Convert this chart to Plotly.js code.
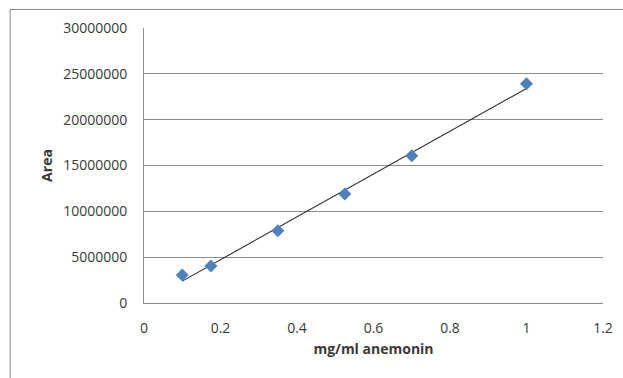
<!DOCTYPE html>
<html>
<head>
<meta charset="utf-8">
<script src="https://cdn.plot.ly/plotly-3.0.1.min.js"></script>
<style>
html, body { margin: 0; padding: 0; background: #ffffff; }
#chart { width: 623px; height: 378px; }
</style>
</head>
<body>
<div id="chart"></div>
<script>
// Data
var concentration = [0.1, 0.175, 0.35, 0.525, 0.7, 1.0];   // mg/ml anemonin
var area = [3050000, 4040000, 7890000, 11890000, 16070000, 23930000];

var xTickVals = [0, 0.2, 0.4, 0.6, 0.8, 1, 1.2];
var xTickText = ["0", "0.2", "0.4", "0.6", "0.8", "1", "1.2"];
var yTickVals = [0, 5000000, 10000000, 15000000, 20000000, 25000000, 30000000];
var yTickText = ["0", "5000000", "10000000", "15000000", "20000000", "25000000", "30000000"];

// Linear trendline (least squares) computed from the data
function linFit(xs, ys) {
  var n = xs.length, mx = 0, my = 0;
  for (var i = 0; i < n; i++) { mx += xs[i]; my += ys[i]; }
  mx /= n; my /= n;
  var sxx = 0, sxy = 0;
  for (var j = 0; j < n; j++) { sxx += (xs[j] - mx) * (xs[j] - mx); sxy += (xs[j] - mx) * (ys[j] - my); }
  var slope = sxy / sxx;
  return { slope: slope, intercept: my - slope * mx };
}
var fit = linFit(concentration, area);
var xMin = Math.min.apply(null, concentration), xMax = Math.max.apply(null, concentration);
var trendX = [xMin, xMax];
var trendY = trendX.map(function (v) { return fit.slope * v + fit.intercept; });

var font = "'Open Sans', Lato, Arial, sans-serif";

var traces = [
  {
    x: trendX, y: trendY, type: "scatter", mode: "lines",
    line: { color: "#303030", width: 1.1 },
    hoverinfo: "skip", showlegend: false
  },
  {
    x: concentration, y: area, type: "scatter", mode: "markers",
    marker: { symbol: "diamond", size: 10, color: "#4F81BD", line: { width: 0 } },
    showlegend: false
  }
];

var layout = {
  width: 623, height: 378,
  margin: { l: 144, r: 20, t: 28, b: 75 },
  paper_bgcolor: "#ffffff", plot_bgcolor: "#ffffff",
  font: { family: font, size: 14, color: "#3a3a3a" },
  showlegend: false,
  xaxis: {
    range: [0, 1.2], tickvals: xTickVals, ticktext: xTickText,
    showgrid: false, zeroline: false,
    showline: true, linecolor: "#8c8c8c", linewidth: 1,
    ticks: "", ticklabelstandoff: 12,
    tickfont: { family: font, size: 14, color: "#3a3a3a" },
    title: { text: "<b>mg/ml anemonin</b>", font: { family: font, size: 14, color: "#3a3a3a" }, standoff: 8 }
  },
  yaxis: {
    range: [0, 30000000], tickvals: yTickVals, ticktext: yTickText,
    showgrid: true, gridcolor: "#8c8c8c", gridwidth: 1, zeroline: false,
    showline: true, linecolor: "#8c8c8c", linewidth: 1,
    ticks: "", ticklabelstandoff: 13,
    tickfont: { family: font, size: 14, color: "#3a3a3a" },
    title: { text: "<b>Area</b>", font: { family: font, size: 14, color: "#3a3a3a" }, standoff: 7 }
  },
  shapes: [
    { type: "line", xref: "paper", yref: "paper", x0: -0.2916, x1: 1.1, y0: 1.0673, y1: 1.0673,
      line: { color: "#8c8c8c", width: 1 } },
    { type: "line", xref: "paper", yref: "paper", x0: -0.2916, x1: -0.2916, y0: 1.0673, y1: -0.3,
      line: { color: "#8c8c8c", width: 1 } }
  ]
};

Plotly.newPlot("chart", traces, layout, { displayModeBar: false, staticPlot: true });
</script>
</body>
</html>
